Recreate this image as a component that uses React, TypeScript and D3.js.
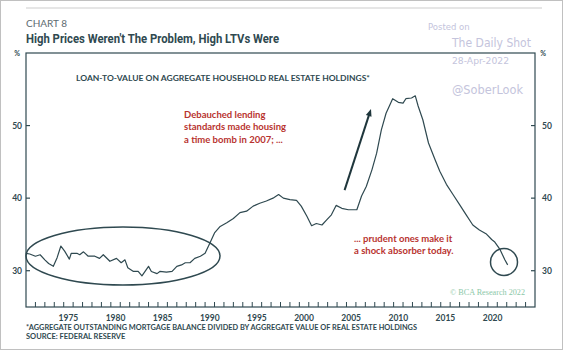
import React from 'react'
import { scaleLinear, line, range } from 'd3'

// LTV on aggregate household real estate holdings, %
const years = [
  1971.0, 1971.4, 1972.0, 1972.5, 1973.0, 1973.4, 1973.9, 1974.3, 1974.7, 1975.1,
  1975.6, 1975.8, 1976.4, 1976.7, 1977.1, 1977.6, 1978.3, 1978.8, 1979.2, 1979.9,
  1980.6, 1981.1, 1981.5, 1981.8, 1982.4, 1982.9, 1983.3, 1984.0, 1984.3, 1984.9,
  1985.2, 1985.9, 1986.5, 1987.0, 1987.5, 1987.9, 1988.4, 1988.9, 1989.5, 1990.0,
  1990.5, 1991.0, 1991.6, 1992.3, 1993.0, 1993.7, 1994.4, 1995.1, 1995.8, 1996.5,
  1997.2, 1997.8, 1998.3, 1999.0, 1999.7, 2000.2, 2000.8, 2001.3, 2001.8, 2002.4,
  2002.9, 2003.4, 2003.9, 2004.5, 2005.2, 2006.1, 2006.6, 2007.1, 2007.7, 2008.2,
  2008.7, 2009.2, 2009.9, 2010.5, 2011.0, 2011.3, 2011.9, 2012.3, 2012.6, 2013.1,
  2013.7, 2014.4, 2014.9, 2015.6, 2016.3, 2017.0, 2017.7, 2018.4, 2019.1, 2019.8,
  2020.4, 2020.7, 2021.3, 2021.8, 2022.1
]
const ltv = [
  32.4, 32.3, 32.0, 32.2, 31.5, 31.0, 30.6, 31.8, 33.4, 32.7,
  31.6, 32.4, 32.4, 32.2, 32.6, 32.0, 32.0, 31.7, 32.2, 31.3,
  31.7, 31.1, 31.5, 30.4, 29.9, 29.9, 29.3, 30.6, 29.9, 29.6,
  29.9, 29.8, 29.9, 30.6, 30.8, 31.1, 31.1, 31.7, 32.0, 32.4,
  33.8, 35.2, 36.1, 36.6, 37.2, 38.0, 38.2, 38.9, 39.3, 39.6,
  40.0, 40.5, 40.0, 39.8, 39.7, 38.9, 37.5, 36.2, 36.5, 36.3,
  37.0, 37.7, 39.0, 38.6, 38.4, 38.4, 40.3, 41.6, 43.9, 46.2,
  49.4, 51.7, 53.7, 53.2, 53.1, 53.7, 53.8, 54.1, 52.7, 50.8,
  47.6, 45.3, 43.7, 41.9, 40.5, 39.1, 37.7, 36.3, 35.6, 35.1,
  34.3, 34.0, 32.9, 31.5, 30.8
]
const yTicks = [30, 40, 50]
const xLabels = [1975, 1980, 1985, 1990, 1995, 2000, 2005, 2010, 2015, 2020]
const noteTop = ['Debauched lending', 'standards made housing', 'a time bomb in 2007; ...']
const noteBottom = ['... prudent ones make it', 'a shock absorber today.']

const W = 564
const H = 351
const left = 26
const right = 535
const top = 53
const bottom = 307

const ink = '#2f4950'
const red = '#b8332f'
const mark = '#c4c4dc'
const sans = 'Lato, "Open Sans", sans-serif'

const App = () => {
  const x = scaleLinear().domain([1971, 2025]).range([left, right])
  const y = scaleLinear().domain([25, 60]).range([bottom, top])

  const path = line<number>()
    .x((d, i) => x(years[i]))
    .y(d => y(d))(ltv)

  // arrow from 2004.8 / 39 up to 2007.6 / 51
  const ax1 = x(2004.8), ay1 = y(41.1)
  const ax2 = x(2007.6), ay2 = y(52.3)
  const ang = Math.atan2(ay2 - ay1, ax2 - ax1)
  const head = (a: number) => `${ax2 + 8 * Math.cos(ang + Math.PI + a)},${ay2 + 8 * Math.sin(ang + Math.PI + a)}`

  return (
    <svg width={W} height={H} style={{ position: 'absolute', left: 0, top: 0, background: '#fff' }}>
      <rect x={0.5} y={0.5} width={W - 2} height={H - 2} fill="none" stroke="#c0c0c0" />
      <line x1={26} x2={542} y1={8} y2={8} stroke="#e6e6e6" strokeWidth={2} />

      <text x={26} y={27} fontFamily={sans} fontSize={10} fill="#5d6b70">CHART 8</text>
      <text x={26} y={42.5} fontFamily="Roboto, sans-serif" fontWeight={700} fontSize={13.5} fill={ink}
        textLength={253} lengthAdjust="spacingAndGlyphs">High Prices Weren't The Problem, High LTVs Were</text>

      {/* watermark */}
      <text x={428} y={29.5} fontFamily="DejaVu Sans, sans-serif" fontSize={8.5} fill={mark}>Posted on</text>
      <text x={452} y={46.5} fontFamily="DejaVu Sans, sans-serif" fontSize={12} fill={mark}
        textLength={79} lengthAdjust="spacingAndGlyphs">The Daily Shot</text>
      <text x={452} y={64} fontFamily="DejaVu Sans, sans-serif" fontSize={8.5} fill={mark}
        textLength={57} lengthAdjust="spacingAndGlyphs">28-Apr-2022</text>
      <text x={452} y={94} fontFamily="DejaVu Sans, sans-serif" fontSize={12} fill={mark}
        textLength={71} lengthAdjust="spacingAndGlyphs">@SoberLook</text>

      {/* frame */}
      <rect x={left} y={top} width={right - left} height={bottom - top} fill="none" stroke={ink} strokeWidth={1.2} />
      <text x={17} y={56} fontFamily={sans} fontSize={7} fontWeight={700} fill={ink} textAnchor="middle">%</text>
      <text x={543} y={56} fontFamily={sans} fontSize={7} fontWeight={700} fill={ink} textAnchor="middle">%</text>

      {yTicks.map(t => (
        <g key={t}>
          <line x1={left} x2={left + 4} y1={y(t)} y2={y(t)} stroke={ink} strokeWidth={1.2} />
          <line x1={right - 4} x2={right} y1={y(t)} y2={y(t)} stroke={ink} strokeWidth={1.2} />
          <text x={22} y={y(t) + 3} fontFamily={sans} fontWeight={700} fontSize={8.5} fill={ink} textAnchor="end">{t}</text>
          <text x={542} y={y(t) + 3} fontFamily={sans} fontWeight={700} fontSize={8.5} fill={ink}>{t}</text>
        </g>
      ))}

      {range(1972, 2025).map(t => (
        <line key={t} x1={x(t)} x2={x(t)} y1={bottom} y2={bottom - 5} stroke={ink} strokeWidth={1} />
      ))}
      {xLabels.map(t => (
        <text key={t} x={x(t + 0.5)} y={321} fontFamily={sans} fontWeight={700} fontSize={8.5} fill={ink} textAnchor="middle">{t}</text>
      ))}

      <text x={76} y={81} fontFamily={sans} fontWeight={700} fontSize={7.5} fill={ink}
        textLength={294} lengthAdjust="spacingAndGlyphs">LOAN-TO-VALUE ON AGGREGATE HOUSEHOLD REAL ESTATE HOLDINGS*</text>

      <path d={path ?? ''} fill="none" stroke={ink} strokeWidth={1.2} strokeLinejoin="round" />

      {/* annotations */}
      <ellipse cx={123} cy={256} rx={97} ry={29} fill="none" stroke={ink} strokeWidth={1.5} />
      <circle cx={504} cy={262} r={13.5} fill="none" stroke={ink} strokeWidth={1.5} />
      <line x1={ax1} y1={ay1} x2={ax2 - 5 * Math.cos(ang)} y2={ay2 - 5 * Math.sin(ang)} stroke="#1f363c" strokeWidth={2} />
      <polygon points={`${ax2},${ay2} ${head(0.38)} ${head(-0.38)}`} fill="#1f363c" />

      {noteTop.map((s, i) => (
        <text key={s} x={184} y={118 + i * 12.3} fontFamily={sans} fontWeight={700} fontSize={9.5} fill={red}>{s}</text>
      ))}
      {noteBottom.map((s, i) => (
        <text key={s} x={354} y={242 + i * 12.3} fontFamily={sans} fontWeight={700} fontSize={9.5} fill={red}>{s}</text>
      ))}

      <text x={450} y={295} fontFamily='"Liberation Serif", serif' fontSize={8.5} fill="#8cc8a8"
        textLength={75} lengthAdjust="spacingAndGlyphs">© BCA Research 2022</text>

      <text x={26} y={330} fontFamily={sans} fontWeight={700} fontSize={7.5} fill={ink}
        textLength={391} lengthAdjust="spacingAndGlyphs">*AGGREGATE OUTSTANDING MORTGAGE BALANCE DIVIDED BY AGGREGATE VALUE OF REAL ESTATE HOLDINGS</text>
      <text x={26} y={339} fontFamily={sans} fontWeight={700} fontSize={7.5} fill={ink}>SOURCE: FEDERAL RESERVE</text>
    </svg>
  )
}

export default App
